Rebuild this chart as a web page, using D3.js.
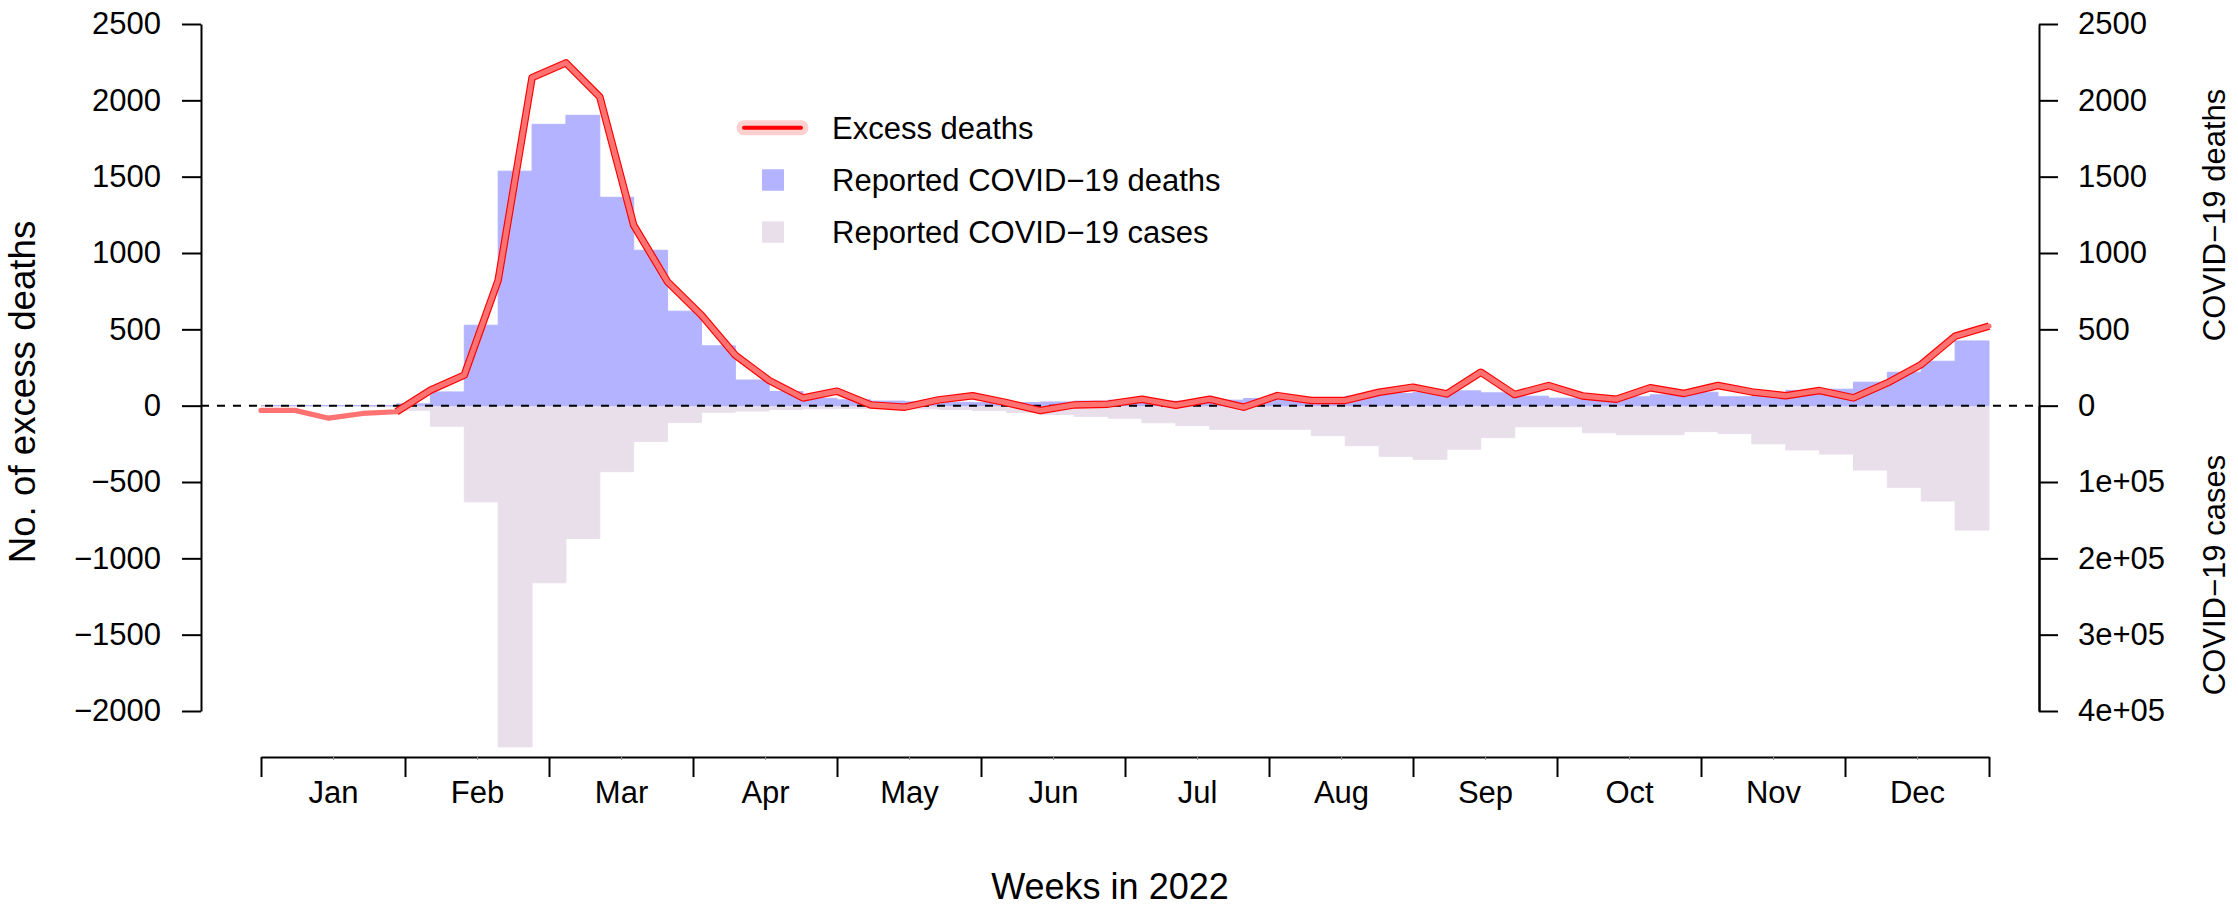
<!DOCTYPE html>
<html><head><meta charset="utf-8">
<script src="https://cdn.jsdelivr.net/npm/d3@7"></script>
<style>
html,body{margin:0;padding:0;background:#fff;}
svg{display:block;font-family:"Liberation Sans",Arial,Helvetica,sans-serif;}
</style></head><body>
<svg id="chart" width="2238" height="909"></svg>
<script>
// ---------- data ----------
const months = ["Jan","Feb","Mar","Apr","May","Jun","Jul","Aug","Sep","Oct","Nov","Dec"];
const weeks = d3.range(1, 53);
const excessDeaths = [-31,-31,-82,-51,-40,101,200,822,2149,2245,2022,1182,811,593,330,165,50,95,5,-10,
  38,65,20,-32,5,10,42,3,42,-10,66,34,34,88,121,77,219,73,132,64,42,117,80,132,90,65,99,51,149,270,455,521];
const covidDeaths = [0,0,0,0,0,12,90,527,1536,1843,1902,1365,1018,619,392,168,93,48,38,30,
  25,22,20,20,24,30,36,30,30,36,47,42,47,62,80,88,97,84,62,49,62,58,71,88,58,62,100,108,154,219,291,424];
const covidCases = [0,0,0,0,1500,6000,27000,126000,447000,232000,174000,86500,47000,22000,8600,7000,5000,4000,3500,3500,
  4000,5000,6500,9000,11500,14000,16600,22400,26200,31000,31000,31000,39300,52400,66400,70300,57200,41900,27500,27500,
  35400,38000,38000,34000,36700,50000,58000,63400,84300,107000,125000,163000];
const leftTicks = [-2000,-1500,-1000,-500,0,500,1000,1500,2000,2500];
const rightDeathTicks = [0,500,1000,1500,2000,2500];
const rightCaseTicks = [100000,200000,300000,400000];
const rightCaseLabels = ["1e+05","2e+05","3e+05","4e+05"];
const legendLabels = ["Excess deaths","Reported COVID\u221219 deaths","Reported COVID\u221219 cases"];
const borderFromWeek = 5;

// ---------- layout ----------
const FONT = '"Liberation Sans",Arial,Helvetica,sans-serif';
const svg = d3.select("#chart");
const axL = 201, axR = 2039, axB = 757;
const x = d3.scaleLinear().domain([1, 52]).range([261, 1989]);
const xm = d3.scaleLinear().domain([0, 12]).range([x(1), x(52)]);
const y = d3.scaleLinear().domain([-2000, 2500]).range([711, 24]);
const yc = d3.scaleLinear().domain([0, 400000]).range([y(0), y(-2000)]);
const fmt = d3.format("d");

const rows = weeks.map((w, i) => ({w, e: excessDeaths[i], d: covidDeaths[i], c: covidCases[i]}));

const deathCol = "#b3b3ff", caseCol = "#e8dfeb";

// cases bars (below zero)
svg.append("path").datum(rows)
  .attr("d", d3.area().curve(d3.curveStepBefore).x(r => x(r.w)).y0(y(0)).y1(r => yc(r.c)))
  .attr("fill", caseCol).attr("stroke", caseCol).attr("stroke-width", 1);
// deaths bars (above zero)
svg.append("path").datum(rows)
  .attr("d", d3.area().curve(d3.curveStepBefore).x(r => x(r.w)).y0(y(0)).y1(r => y(r.d)))
  .attr("fill", deathCol).attr("stroke", deathCol).attr("stroke-width", 1);

// zero dashed line
svg.append("line").attr("x1", axL).attr("x2", axR).attr("y1", y(0)).attr("y2", y(0))
  .attr("stroke", "#000").attr("stroke-width", 2).attr("stroke-dasharray", "8,8");

// excess deaths line
const line = d3.line().x(r => x(r.w)).y(r => y(r.e));
svg.append("path").datum(rows.filter(r => r.w >= borderFromWeek))
  .attr("d", line).attr("fill", "none").attr("stroke", "#ff0000")
  .attr("stroke-width", 7.5).attr("stroke-linejoin", "round");
svg.append("path").datum(rows)
  .attr("d", line).attr("fill", "none").attr("stroke", "#ff7272")
  .attr("stroke-width", 5.2).attr("stroke-linejoin", "round").attr("stroke-linecap", "round");

// ---------- axes ----------
function styleAxis(g, size) {
  g.attr("font-family", FONT).attr("font-size", size);
  g.selectAll("path,line").attr("stroke", "#000").attr("stroke-width", 2);
  g.selectAll("text").attr("fill", "#000");
}
svg.append("g").attr("transform", `translate(${axL},0)`)
  .call(d3.axisLeft(y).tickValues(leftTicks).tickFormat(fmt).tickSize(19).tickSizeOuter(0).tickPadding(21))
  .call(g => styleAxis(g, 31));
svg.append("g").attr("transform", `translate(${axR},0)`)
  .call(d3.axisRight(y).tickValues(rightDeathTicks).tickFormat(fmt).tickSize(19).tickSizeOuter(0).tickPadding(20))
  .call(g => styleAxis(g, 31));
svg.append("g").attr("transform", `translate(${axR},0)`)
  .call(d3.axisRight(yc).tickValues(rightCaseTicks).tickFormat((d, i) => rightCaseLabels[i])
    .tickSize(19).tickSizeOuter(0).tickPadding(20))
  .call(g => styleAxis(g, 31));
svg.append("g").attr("transform", `translate(0,${axB})`)
  .call(d3.axisBottom(xm).tickValues(d3.range(13)).tickFormat("").tickSize(20).tickSizeOuter(0))
  .call(g => styleAxis(g, 31));
svg.append("g").attr("transform", `translate(0,${axB})`)
  .call(d3.axisBottom(xm).tickValues(months.map((m, i) => i + 0.5)).tickFormat((d, i) => months[i])
    .tickSize(3).tickPadding(21))
  .call(g => styleAxis(g, 31))
  .call(g => g.select(".domain").remove())
  .call(g => g.selectAll(".tick line").attr("stroke", "#999").attr("stroke-width", 1));

// ---------- titles ----------
svg.append("text").attr("transform", "translate(35,392) rotate(-90)")
  .attr("text-anchor", "middle").attr("font-size", 36.7).text("No. of excess deaths");
svg.append("text").attr("x", 1110).attr("y", 899)
  .attr("text-anchor", "middle").attr("font-size", 36).text("Weeks in 2022");
svg.append("text").attr("transform", "translate(2225,215) rotate(-90)")
  .attr("text-anchor", "middle").attr("font-size", 31).text("COVID\u221219 deaths");
svg.append("text").attr("transform", "translate(2225,575) rotate(-90)")
  .attr("text-anchor", "middle").attr("font-size", 31).text("COVID\u221219 cases");

// ---------- legend ----------
const lg = svg.append("g").attr("font-size", 31);
const baselines = [139.3, 190.7, 243];
lg.append("line").attr("x1", 744).attr("x2", 801).attr("y1", 127.7).attr("y2", 127.7)
  .attr("stroke", "#ffd0d0").attr("stroke-width", 15).attr("stroke-linecap", "round");
lg.append("line").attr("x1", 744).attr("x2", 801).attr("y1", 127.7).attr("y2", 127.7)
  .attr("stroke", "#ff0000").attr("stroke-width", 4).attr("stroke-linecap", "round");
lg.append("rect").attr("x", 762).attr("y", 169.3).attr("width", 22).attr("height", 21.4).attr("fill", deathCol);
lg.append("rect").attr("x", 762).attr("y", 221.4).attr("width", 22).attr("height", 21.4).attr("fill", caseCol);
legendLabels.forEach((t, i) => {
  lg.append("text").attr("x", 832).attr("y", baselines[i]).text(t);
});
</script>
</body></html>
